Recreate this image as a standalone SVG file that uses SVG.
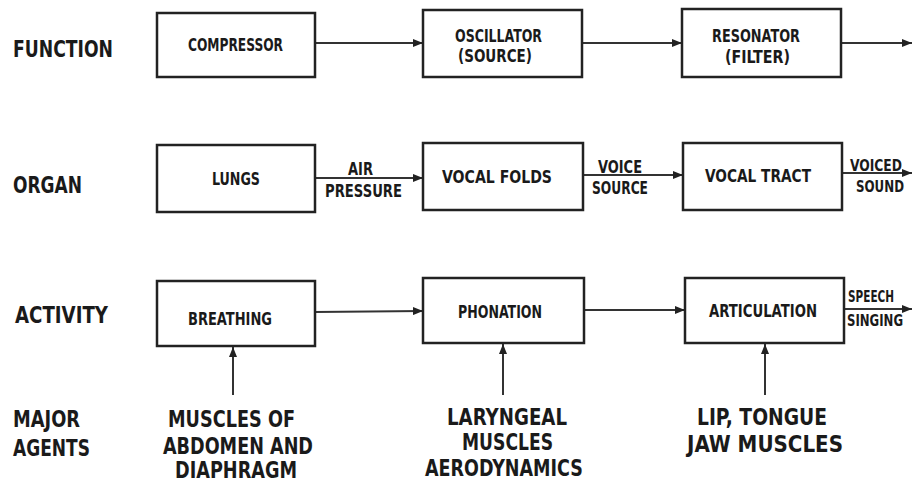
<svg xmlns="http://www.w3.org/2000/svg" width="914" height="483" viewBox="0 0 914 483">
<defs>
<marker id="ah" markerUnits="userSpaceOnUse" markerWidth="10" markerHeight="8" viewBox="0 0 10 8" refX="10" refY="4" orient="auto">
<path d="M0,0 L10,4 L0,8 Z" fill="#222"/>
</marker>
<style>
.box{fill:#fff;stroke:#222;stroke-width:2.5}
.con{stroke:#333;stroke-width:2;fill:none;marker-end:url(#ah)}
text{font-family:"DejaVu Sans Condensed","DejaVu Sans",sans-serif;font-weight:bold;fill:#1a1a1a}
.s{font-size:18px}
.e{font-size:16px}
.l{font-size:23px}
</style>
</defs>
<rect width="914" height="483" fill="#fff"/>
<g id="row-labels">
<text class="l" x="13" y="57" textLength="100" lengthAdjust="spacingAndGlyphs">FUNCTION</text>
<text class="l" x="13" y="193" textLength="69" lengthAdjust="spacingAndGlyphs">ORGAN</text>
<text class="l" x="15" y="323" textLength="93" lengthAdjust="spacingAndGlyphs">ACTIVITY</text>
<text class="l" x="13" y="427" textLength="67" lengthAdjust="spacingAndGlyphs">MAJOR</text>
<text class="l" x="13" y="456" textLength="77" lengthAdjust="spacingAndGlyphs">AGENTS</text>
</g>
<g id="connectors">
<line class="con" x1="315" y1="43" x2="423" y2="43"/>
<line class="con" x1="582" y1="43" x2="682" y2="43"/>
<line class="con" x1="841" y1="43" x2="912" y2="43"/>
<line class="con" x1="315" y1="178" x2="423" y2="178"/>
<line class="con" x1="583" y1="175" x2="683" y2="175"/>
<line class="con" x1="842" y1="173" x2="912" y2="173"/>
<line class="con" x1="315" y1="312" x2="423" y2="311"/>
<line class="con" x1="584" y1="310" x2="685" y2="310"/>
<line class="con" x1="844" y1="309" x2="912" y2="309"/>
<line class="con" x1="233" y1="395" x2="233" y2="347"/>
<line class="con" x1="503" y1="395" x2="503" y2="344"/>
<line class="con" x1="765" y1="395" x2="765" y2="344"/>
</g>
<g id="compressor">
<rect class="box" x="157" y="13" width="158" height="64"/>
<text class="s" x="188" y="51" textLength="95" lengthAdjust="spacingAndGlyphs">COMPRESSOR</text>
</g>
<g id="oscillator">
<rect class="box" x="423" y="10" width="159" height="67"/>
<text class="s" x="455" y="42" textLength="87" lengthAdjust="spacingAndGlyphs">OSCILLATOR</text>
<text class="s" x="458" y="62" textLength="74" lengthAdjust="spacingAndGlyphs">(SOURCE)</text>
</g>
<g id="resonator">
<rect class="box" x="682" y="9" width="159" height="68"/>
<text class="s" x="712" y="42" textLength="88" lengthAdjust="spacingAndGlyphs">RESONATOR</text>
<text class="s" x="725" y="63" textLength="65" lengthAdjust="spacingAndGlyphs">(FILTER)</text>
</g>
<g id="lungs">
<rect class="box" x="157" y="145" width="158" height="67"/>
<text class="s" x="212" y="185" textLength="48" lengthAdjust="spacingAndGlyphs">LUNGS</text>
</g>
<g id="vocal-folds">
<rect class="box" x="423" y="143" width="160" height="67"/>
<text class="s" x="442" y="183" textLength="110" lengthAdjust="spacingAndGlyphs">VOCAL  FOLDS</text>
</g>
<g id="vocal-tract">
<rect class="box" x="683" y="143" width="159" height="67"/>
<text class="s" x="705" y="182" textLength="106" lengthAdjust="spacingAndGlyphs">VOCAL TRACT</text>
</g>
<g id="breathing">
<rect class="box" x="157" y="281" width="158" height="65"/>
<text class="s" x="188" y="325" textLength="84" lengthAdjust="spacingAndGlyphs">BREATHING</text>
</g>
<g id="phonation">
<rect class="box" x="423" y="278" width="161" height="65"/>
<text class="s" x="458" y="318" textLength="84" lengthAdjust="spacingAndGlyphs">PHONATION</text>
</g>
<g id="articulation">
<rect class="box" x="685" y="278" width="159" height="65"/>
<text class="s" x="709" y="317" textLength="108" lengthAdjust="spacingAndGlyphs">ARTICULATION</text>
</g>
<g id="connector-labels">
<text class="s" x="348" y="175" textLength="25" lengthAdjust="spacingAndGlyphs">AIR</text>
<text class="s" x="325" y="197" textLength="77" lengthAdjust="spacingAndGlyphs">PRESSURE</text>
<text class="s" x="598" y="173" textLength="44" lengthAdjust="spacingAndGlyphs">VOICE</text>
<text class="s" x="592" y="194" textLength="56" lengthAdjust="spacingAndGlyphs">SOURCE</text>
<text class="e" x="850" y="171" textLength="52" lengthAdjust="spacingAndGlyphs">VOICED</text>
<text class="e" x="856" y="192" textLength="48" lengthAdjust="spacingAndGlyphs">SOUND</text>
<text class="e" x="848" y="302" textLength="46" lengthAdjust="spacingAndGlyphs">SPEECH</text>
<text class="e" x="847" y="326" textLength="56" lengthAdjust="spacingAndGlyphs">SINGING</text>
</g>
<g id="agents-breathing">
<text class="l" x="168" y="427" textLength="127" lengthAdjust="spacingAndGlyphs">MUSCLES OF</text>
<text class="l" x="163" y="454" textLength="150" lengthAdjust="spacingAndGlyphs">ABDOMEN AND</text>
<text class="l" x="175" y="478" textLength="122" lengthAdjust="spacingAndGlyphs">DIAPHRAGM</text>
</g>
<g id="agents-phonation">
<text class="l" x="447" y="425" textLength="120" lengthAdjust="spacingAndGlyphs">LARYNGEAL</text>
<text class="l" x="462" y="450" textLength="91" lengthAdjust="spacingAndGlyphs">MUSCLES</text>
<text class="l" x="425" y="476" textLength="158" lengthAdjust="spacingAndGlyphs">AERODYNAMICS</text>
</g>
<g id="agents-articulation">
<text class="l" x="697" y="425" textLength="130" lengthAdjust="spacingAndGlyphs">LIP, TONGUE</text>
<text class="l" x="687" y="452" textLength="156" lengthAdjust="spacingAndGlyphs">JAW MUSCLES</text>
</g>
</svg>
